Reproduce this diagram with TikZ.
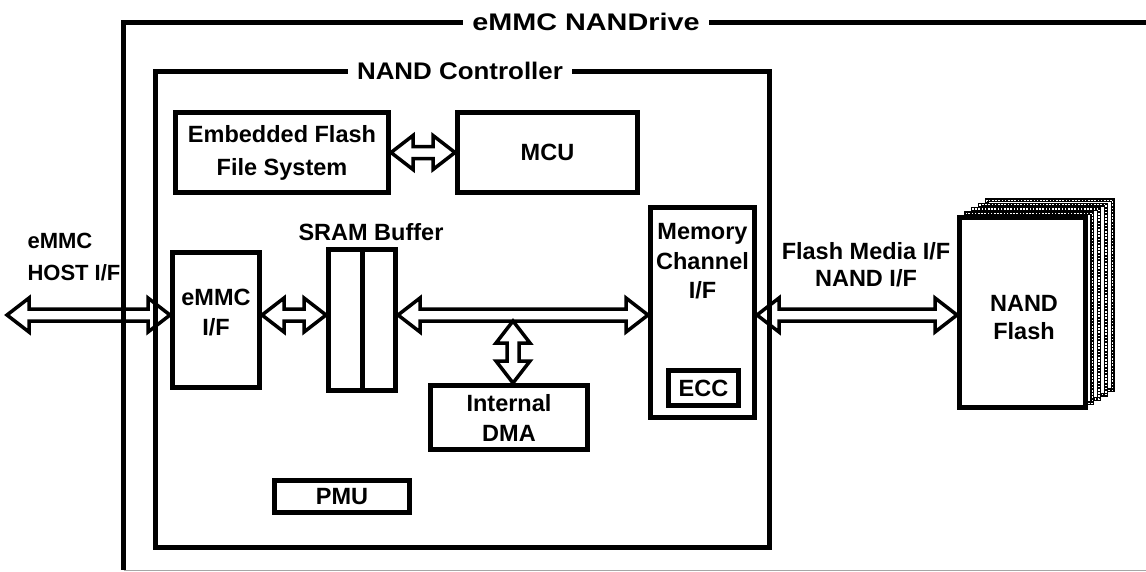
\documentclass[tikz,border=0pt]{standalone}
\usepackage{fontspec}
\setmainfont{Liberation Sans}
\newfontfamily\outerfont[FakeStretch=1.2]{Liberation Sans}
\newfontfamily\ctrlfont[FakeStretch=1.08]{Liberation Sans}
\usetikzlibrary{positioning, calc}

\newcommand{\txt}{\bfseries\fontsize{23.5}{30}\selectfont}

\tikzset{
  blk/.style={draw, line width=5pt, font=\txt, align=center, inner sep=0pt},
  frame/.style={line width=5pt},
  lbl/.style={font=\txt, align=center},
  ttl/.style={fill=white, inner xsep=9pt, inner ysep=2pt},
  layer/.style={draw, fill=white, line width=4pt, minimum width=126pt, minimum height=190pt,
    postaction={draw=white, line width=1.3pt, dash pattern=on 1.6pt off 1.6pt}},
  bus/.style={line width=3.5pt, line join=miter, to path={
    let \p1=(\tikztostart), \p2=(\tikztotarget),
        \n1={atan2(\y2-\y1,\x2-\x1)}, \n2={veclen(\x2-\x1,\y2-\y1)} in
    {[shift={(\p1)}, rotate=\n1, x=1pt, y=1pt]
     (0,0) -- (22,17) -- (22,6) -- (\n2-22,6) -- (\n2-22,17) -- (\n2,0)
     -- (\n2-22,-17) -- (\n2-22,-6) -- (22,-6) -- (22,-17) -- cycle}
  }}
}

\begin{document}
\begin{tikzpicture}[x=1pt, y=-1pt]
\useasboundingbox (0,0) rectangle (1146,571);

% blocks inside the controller
\node[blk, minimum width=213pt, minimum height=80pt] (effs) at (282,152.5) {Embedded Flash\\[3pt]File System};
\node[blk, minimum width=180pt, minimum height=80pt] (mcu) at (547.5,152.5) {MCU};
\node[blk, minimum width=87pt, minimum height=135pt] (emmcif) at (216,320) {};
\node[lbl] (emmciftxt) at (216,313) {eMMC\\I/F};
\node[blk, minimum width=67pt, minimum height=141pt] (sram) at (362,320) {};
\draw[line width=5pt] (sram.north) -- (sram.south);
\node[lbl, above=3pt of sram, xshift=9pt] (sramlbl) {SRAM Buffer};
\node[blk, minimum width=104pt, minimum height=210pt] (memch) at (702.5,312.5) {};
\node[lbl, below=15pt of memch.north, font=\bfseries\fontsize{23.5}{29.5}\selectfont] (memchlbl) {Memory\\Channel\\I/F};
\node[blk, minimum width=70pt, minimum height=35pt] (ecc) at (703.5,388) {ECC};
\node[blk, minimum width=157pt, minimum height=64pt] (dma) at (509,417.5) {Internal\\DMA};
\node[blk, minimum width=135pt, minimum height=32pt] (pmu) at (342,496.5) {PMU};

% NAND flash stack
\coordinate (nandc) at (1022.5,312.5);
\foreach \k in {4,3,2,1}
  \node[layer] at ([shift={(6.8*\k,-4.3*\k)}]nandc) {};
\node[blk, fill=white, minimum width=126pt, minimum height=190pt] (nand) at (nandc) {};
\node[lbl, font=\bfseries\fontsize{23.5}{28}\selectfont] (nandlbl) at (1024,318) {NAND\\Flash};

% buses
\coordinate (busy) at (0,315);
\coordinate (hostend) at (7,315);
\coordinate (busbot) at (513,321);
\draw[bus] (hostend) to (emmcif.west |- busy);
\draw[bus] (emmcif.east |- busy) to (sram.west |- busy);
\draw[bus] (sram.east |- busy) to (memch.west |- busy);
\draw[bus] (memch.east |- busy) to (nand.west |- busy);
\draw[bus] (busbot) to (busbot |- dma.north);
\draw[bus] (effs.east) to (mcu.west);

\node[lbl, align=left, anchor=west, font=\bfseries\fontsize{22}{32}\selectfont] (hostlbl) at (24,257) {eMMC\\HOST I/F};
\node[lbl, font=\bfseries\fontsize{23.5}{27}\selectfont] (medialbl) at (866,265) {Flash Media I/F\\NAND I/F};

% frames
\draw[frame] (1146,22) -| (123.5,570);
\draw[gray!70, line width=1pt] (123.5,570) -- (1146,570);
\node[ttl, font=\outerfont\bfseries\fontsize{24}{28}\selectfont] (drive) at (586,22) {eMMC NANDrive};
\draw[frame] (155.5,71) rectangle (769.5,547);
\node[ttl, font=\ctrlfont\bfseries\fontsize{24}{28}\selectfont] (ctrl) at (460,71) {NAND Controller};
\end{tikzpicture}
\end{document}
